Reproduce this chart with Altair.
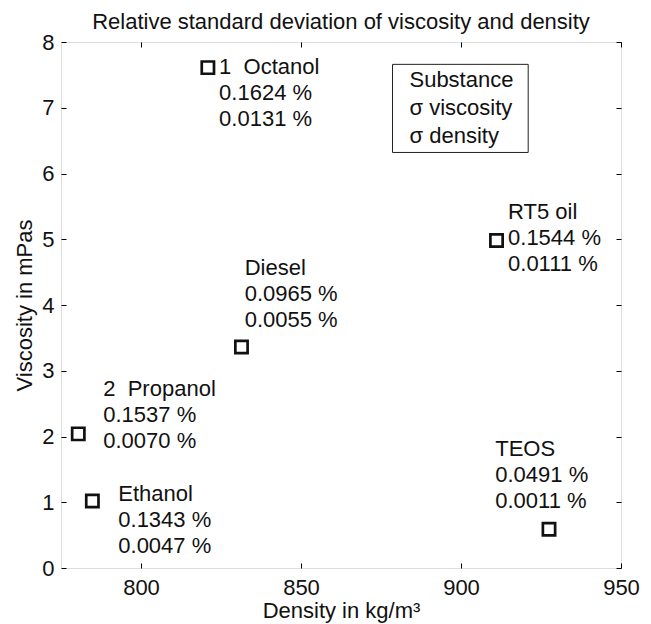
import altair as alt
import pandas as pd

# ---- data ----
substances = ["Ethanol", "2\u00a0 Propanol", "Diesel", "1\u00a0 Octanol", "RT5 oil", "TEOS"]
density = [784.8, 780.4, 831.4, 820.9, 911.1, 927.5]          # kg/m³
viscosity = [1.02, 2.04, 3.36, 7.61, 4.98, 0.59]              # mPas
sigma_visc = ["0.1343 %", "0.1537 %", "0.0965 %", "0.1624 %", "0.1544 %", "0.0491 %"]
sigma_dens = ["0.0047 %", "0.0070 %", "0.0055 %", "0.0131 %", "0.0111 %", "0.0011 %"]
# annotation anchors (data coordinates, first text line)
label_x = [792.9, 788.2, 832.4, 824.4, 914.7, 910.7]
label_y = [1.11, 2.71, 4.54, 7.61, 5.40, 1.80]

legend_lines = ["Substance", "\u03c3 viscosity", "\u03c3 density"]
legend_anchor = [883.9, 7.40]
legend_box = [878.6, 921.0, 6.32, 7.66]  # x, x2, y, y2

x_ticks = [800, 850, 900, 950]
y_ticks = [0, 1, 2, 3, 4, 5, 6, 7, 8]

# ---- tables ----
pts = pd.DataFrame({"substance": substances, "density": density, "viscosity": viscosity})
labels = pd.DataFrame({
    "label": [f"{s}\n{v}\n{d}" for s, v, d in zip(substances, sigma_visc, sigma_dens)],
    "lx": label_x, "ly": label_y,
})
leg_text = pd.DataFrame({"label": ["\n".join(legend_lines)], "lx": [legend_anchor[0]], "ly": [legend_anchor[1]]})
leg_box = pd.DataFrame({"x": [legend_box[0]], "x2": [legend_box[1]], "y": [legend_box[2]], "y2": [legend_box[3]]})

W, H = 560, 526
FONT = "Liberation Sans"
FS = 22
INK = "#111111"

xscale = alt.Scale(domain=[775, 950], nice=False, zero=False)
yscale = alt.Scale(domain=[0, 8], nice=False, zero=False)

tick_only = dict(labels=False, domain=False, ticks=True, tickSize=5, tickColor="black",
                 tickWidth=1, grid=False, title=None)

points = alt.Chart(pts).mark_point(
    shape="square", size=150, filled=False, strokeWidth=2.7, color=INK, opacity=1
).encode(
    x=alt.X("density:Q", scale=xscale, axis=alt.Axis(
        orient="bottom", values=x_ticks, ticks=False, domain=False, grid=False,
        labelFontSize=FS, labelFont=FONT, labelColor=INK, labelPadding=9, labelFlush=False,
        title="Density in kg/m\u00b3", titleFontSize=FS, titleFont=FONT, titleFontWeight="normal",
        titleColor=INK, titleX=W / 2, titleY=49, titleBaseline="alphabetic")),
    y=alt.Y("viscosity:Q", scale=yscale, axis=alt.Axis(
        orient="left", values=y_ticks, ticks=False, domain=False, grid=False,
        labelFontSize=FS, labelFont=FONT, labelColor=INK, labelPadding=7,
        title="Viscosity in mPas", titleFontSize=FS, titleFont=FONT, titleFontWeight="normal",
        titleColor=INK, titleX=-37, titleY=H / 2, titleAngle=-90, titleBaseline="middle")),
)

text = alt.Chart(labels).mark_text(
    align="left", baseline="line-top", dy=-13, lineHeight=26, lineBreak="\n",
    fontSize=FS, font=FONT, color=INK
).encode(
    x=alt.X("lx:Q", scale=xscale, axis=alt.Axis(orient="top", offset=-H, values=x_ticks, **tick_only)),
    y=alt.Y("ly:Q", scale=yscale, axis=alt.Axis(orient="right", offset=-W, values=y_ticks, **tick_only)),
    text="label:N",
)

box = alt.Chart(leg_box).mark_rect(fill="white", stroke="#222222", strokeWidth=1).encode(
    x=alt.X("x:Q", scale=xscale, axis=alt.Axis(orient="bottom", offset=-H, values=x_ticks, **tick_only)),
    x2="x2:Q",
    y=alt.Y("y:Q", scale=yscale, axis=alt.Axis(orient="left", offset=-W, values=y_ticks, **tick_only)),
    y2="y2:Q",
)

legend = alt.Chart(leg_text).mark_text(
    align="left", baseline="line-top", dy=-14, lineHeight=28, lineBreak="\n",
    fontSize=FS, font=FONT, color=INK
).encode(
    x=alt.X("lx:Q", scale=xscale, axis=None),
    y=alt.Y("ly:Q", scale=yscale, axis=None),
    text="label:N",
)

chart = alt.layer(box, text, legend, points).resolve_axis(
    x="independent", y="independent"
).properties(
    width=W, height=H,
    autosize=alt.AutoSizeParams(type="none"),
    padding={"left": 53, "top": 34, "right": 22, "bottom": 56},
    title=alt.Title("Relative standard deviation of viscosity and density", fontSize=FS, font=FONT,
                    fontWeight="normal", color=INK, anchor="middle", frame="group",
                    baseline="alphabetic", offset=0, dy=20),
).configure_view(stroke="black", strokeWidth=1).configure(background="white")

chart.save("out.html", embed_options={"renderer": "svg", "actions": False})
